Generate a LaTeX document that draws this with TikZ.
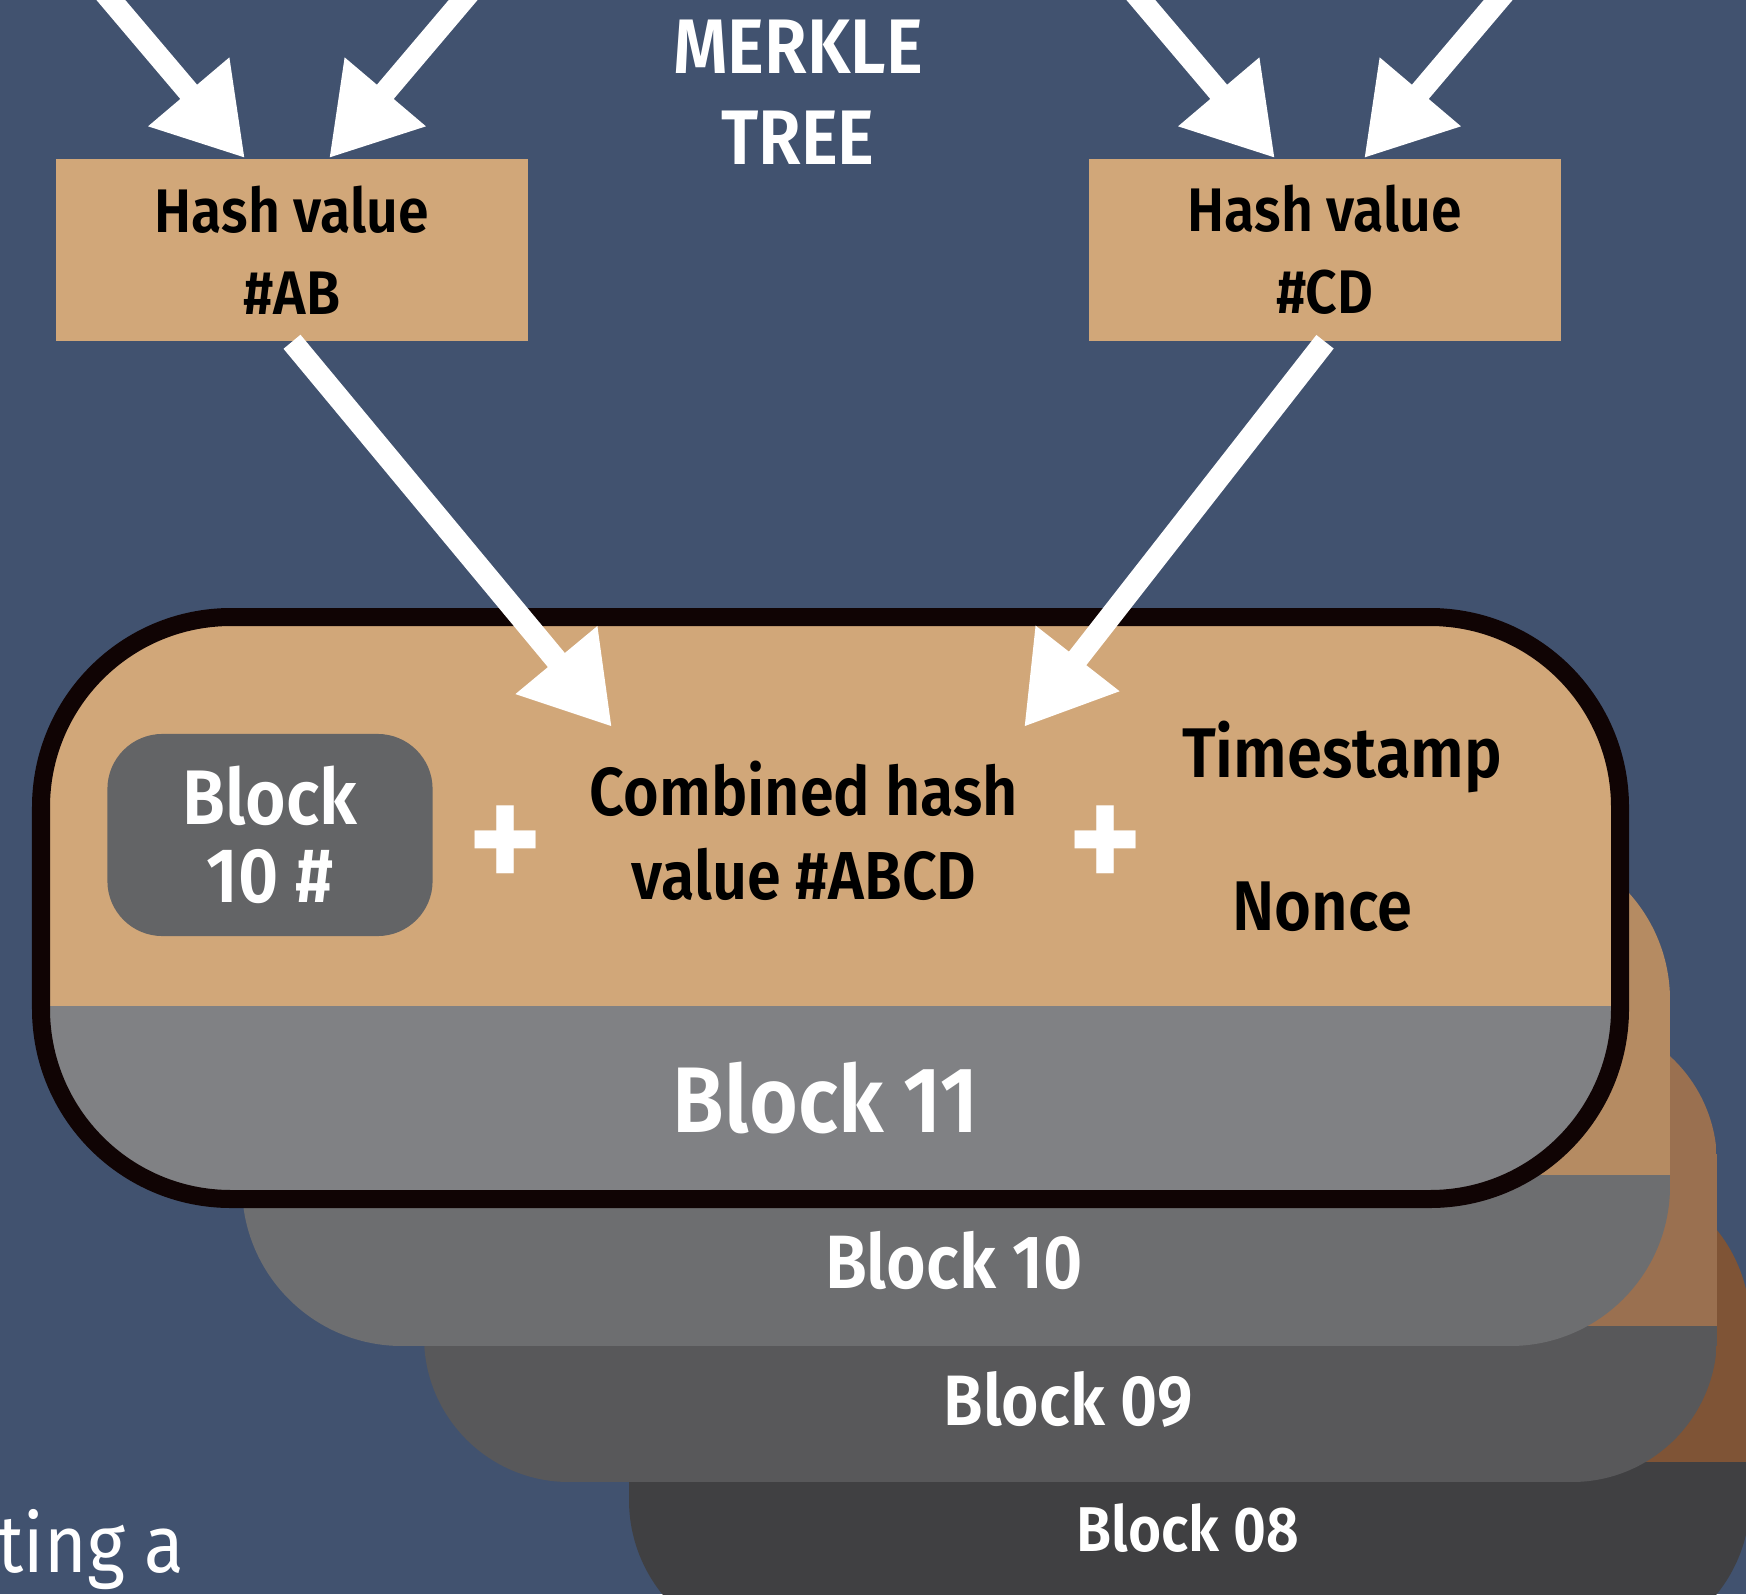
\documentclass[tikz,border=0pt]{standalone}
\usepackage{fontspec}
\setmainfont{Fira Sans}[FakeStretch=0.9,BoldFont={Fira Sans SemiBold}]
\usepackage{tikz}
\usetikzlibrary{arrows.meta,positioning,calc}
\definecolor{bg}{HTML}{41526F}
\definecolor{tan}{HTML}{D1A779}
\definecolor{gA}{HTML}{808184}
\definecolor{gin}{HTML}{636466}
\definecolor{tB}{HTML}{B58B62}
\definecolor{gB}{HTML}{6D6E70}
\definecolor{tC}{HTML}{9A7050}
\definecolor{gC}{HTML}{58585A}
\definecolor{tD}{HTML}{7F5436}
\definecolor{gD}{HTML}{404042}
\definecolor{bd}{HTML}{100404}

\begin{document}
\begin{tikzpicture}[x=0.01cm,y=-0.01cm,>={Triangle[length=8.7mm,width=10mm]},
  hash/.style={fill=tan,minimum width=4.72cm,minimum height=1.82cm,align=center,
    font=\bfseries\fontsize{17.5}{23.3}\selectfont},
  arr/.style={->,draw=white,line width=0.22cm},
  lbl/.style={text=white,font=\bfseries\fontsize{#1}{#1}\selectfont}]
  \useasboundingbox[fill=bg] (0,0) rectangle (1746,1594);
  \clip (0,0) rectangle (1746,1594);

  % stack of blocks, back to front
  \foreach \l/\t/\r/\b/\s/\rad/\ca/\cb in {629/1174/1750/1650/1462/1.5/tD/gD,
      424/1018/1717/1482/1326/1.45/tC/gC, 242/840/1670/1346/1175/1.6/tB/gB,
      41/617/1620/1199/1006/1.9/tan/gA} {
    \begin{scope}
      \clip[rounded corners=\rad cm] (\l,\t) rectangle (\r,\b);
      \fill[\ca] (\l,\t) rectangle (\r,\s);
      \fill[\cb] (\l,\s) rectangle (\r,\b);
    \end{scope}
  }
  \draw[bd,line width=0.18cm,rounded corners=1.9cm] (41,617) rectangle (1620,1199);

  \node[lbl=26.5] (b11) at (826,1098) {Block 11};
  \node[lbl=21.5] (b10) at (954,1260) {Block 10};
  \node[lbl=20.3] (b09) at (1068,1399) {Block 09};
  \node[lbl=18] (b08) at (1188,1528) {Block 08};

  % merkle tree part
  \node[hash] (ab) at (292,250) {Hash value\\\#AB};
  \node[hash] (cd) at (1325,250) {Hash value\\\#CD};
  \node[text=white,align=center,font=\bfseries\fontsize{22}{26}\selectfont] (mt) at (798,92) {MERKLE\\TREE};

  \node[fill=gin,rounded corners=0.55cm,minimum width=3.25cm,minimum height=2.02cm,
    align=center,text=white,font=\bfseries\fontsize{22}{22.2}\selectfont] (bh) at (270,835) {Block\\10 \#};
  \node[lbl=46] (p1) at (506,850) {+};
  \node[align=center,font=\bfseries\fontsize{19.3}{24}\selectfont] (abcd) at (804,831) {Combined hash\\value \#ABCD};
  \node[lbl=46] (p2) at (1106,850) {+};
  \node[anchor=base,font=\bfseries\fontsize{20}{24}\selectfont] (ts) at (1342,777) {Timestamp};
  \node[anchor=base,font=\bfseries\fontsize{20}{24}\selectfont] (nc) at (1322,930) {Nonce};

  \node[anchor=base west,inner sep=0,text=white,font=\fontsize{23}{27}\selectfont] (txt) at (-3,1572) {ting a};

  \coordinate (s1) at (71,-47);
  \coordinate (s2) at (503,-47);
  \coordinate (s3) at (1101,-47);
  \coordinate (s4) at (1538,-47);
  \coordinate (e1) at (612,727);
  \coordinate (e2) at (1024,727);

  \draw[arr] (s1) -- ($(ab.north)+(-47,0)$);
  \draw[arr] (s2) -- ($(ab.north)+(37,0)$);
  \draw[arr] (s3) -- ($(cd.north)+(-50,0)$);
  \draw[arr] (s4) -- ($(cd.north)+(39,0)$);
  \draw[arr] (ab.south) -- (e1);
  \draw[arr] (cd.south) -- (e2);
\end{tikzpicture}
\end{document}
